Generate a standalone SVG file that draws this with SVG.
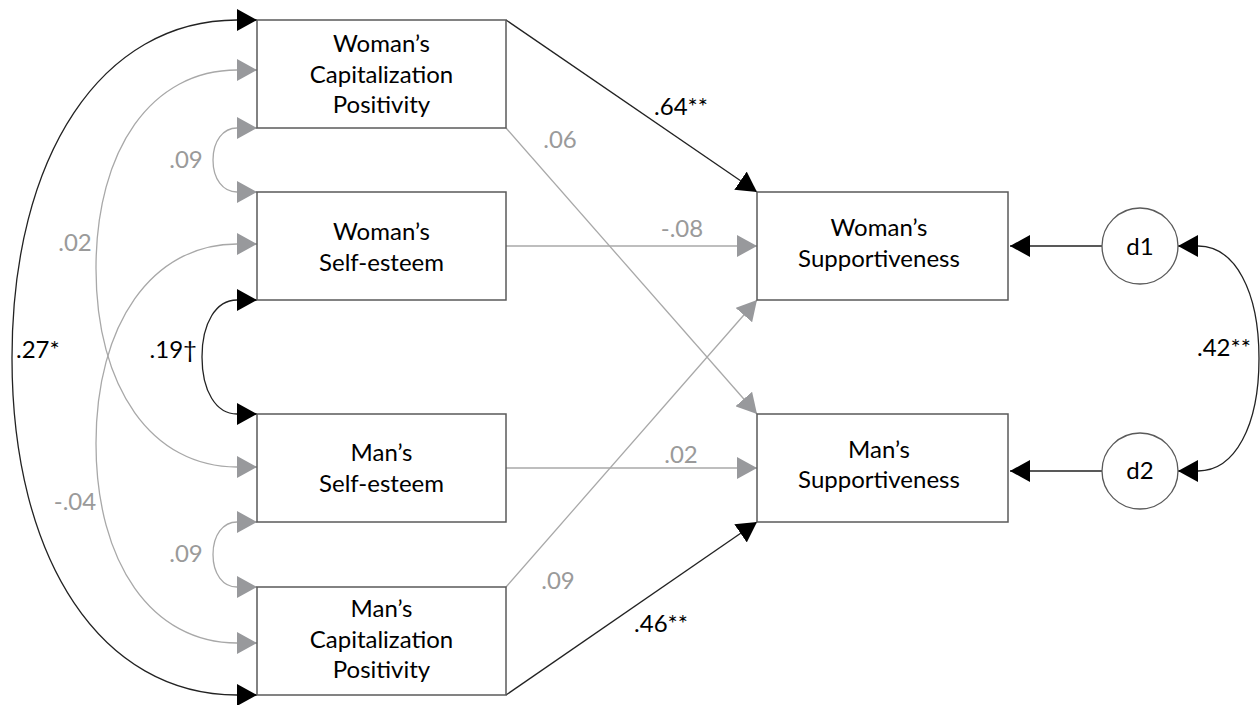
<svg xmlns="http://www.w3.org/2000/svg" width="1260" height="705" viewBox="0 0 1260 705">
<style>
.box{fill:#fff;stroke:#5a5a5a;stroke-width:1.5}
.circ{fill:#fff;stroke:#5a5a5a;stroke-width:1.3}
.t{font-family:Lato,"Liberation Sans",sans-serif;font-size:24px;fill:#000;text-anchor:middle}
.lb{font-family:Lato,"Liberation Sans",sans-serif;font-size:24px;fill:#000}
.lg{font-family:Lato,"Liberation Sans",sans-serif;font-size:24px;fill:#9a9a9a}
.k{fill:none;stroke:#222;stroke-width:1.3}
.g{fill:none;stroke:#a8a8a8;stroke-width:1.3}
</style>
<defs>
<marker id="ak" markerUnits="userSpaceOnUse" markerWidth="20" markerHeight="22" refX="20" refY="11" orient="auto-start-reverse" viewBox="0 0 20 22"><path d="M0,0 L20,11 L0,22 Z" fill="#000"/></marker>
<marker id="ag" markerUnits="userSpaceOnUse" markerWidth="20" markerHeight="22" refX="20" refY="11" orient="auto-start-reverse" viewBox="0 0 20 22"><path d="M0,0 L20,11 L0,22 Z" fill="#98999c"/></marker>
</defs>
<g id="connectors">
<path class="k" d="M257,20 L237,20 C102,20 12,155 12,358 C12,561 102,695 237,695 L257,695" marker-start="url(#ak)" marker-end="url(#ak)"/>
<path class="g" d="M257,70 L237,70 C152,70 96,149 96,268.5 C96,388 152,467 237,467 L257,467" marker-start="url(#ag)" marker-end="url(#ag)"/>
<path class="g" d="M257,244 L237,244 C152,244 96,324 96,443.5 C96,563 152,643 237,643 L257,643" marker-start="url(#ag)" marker-end="url(#ag)"/>
<path class="g" d="M257,128 L237,128 C223,128 213,141 213,160 C213,179 223,192 237,192 L257,192" marker-start="url(#ag)" marker-end="url(#ag)"/>
<path class="k" d="M257,300 L237,300 C216,300 202,323 202,357 C202,391 216,414 237,414 L257,414" marker-start="url(#ak)" marker-end="url(#ak)"/>
<path class="g" d="M257,522 L237,522 C223,522 213,535 213,554.5 C213,574 223,587 237,587 L257,587" marker-start="url(#ag)" marker-end="url(#ag)"/>
<path class="k" d="M506,20 L757,192" marker-end="url(#ak)"/>
<path class="g" d="M506,128 L757,414" marker-end="url(#ag)"/>
<path class="g" d="M506,246 L757,246" marker-end="url(#ag)"/>
<path class="g" d="M506,468 L757,468" marker-end="url(#ag)"/>
<path class="g" d="M506,587 L757,300" marker-end="url(#ag)"/>
<path class="k" d="M506,695 L757,522" marker-end="url(#ak)"/>
<path class="k" d="M1102,246 L1010,246" marker-end="url(#ak)"/>
<path class="k" d="M1102,471 L1010,471" marker-end="url(#ak)"/>
<path class="k" d="M1178,246 L1198,246 C1235,246 1259,291 1259,358.5 C1259,426 1235,471 1198,471 L1178,471" marker-start="url(#ak)" marker-end="url(#ak)"/>
</g>
<g id="labels">
<text class="lb" x="681" y="115" text-anchor="middle">.64**</text>
<text class="lg" x="560" y="148" text-anchor="middle">.06</text>
<text class="lg" x="682" y="237" text-anchor="middle">-.08</text>
<text class="lg" x="681" y="463" text-anchor="middle">.02</text>
<text class="lg" x="558" y="589" text-anchor="middle">.09</text>
<text class="lb" x="661" y="632" text-anchor="middle">.46**</text>
<text class="lb" x="1197" y="356">.42**</text>
<text class="lb" x="16" y="358">.27*</text>
<text class="lb" x="197" y="358" text-anchor="end">.19†</text>
<text class="lg" x="75" y="251" text-anchor="middle">.02</text>
<text class="lg" x="75" y="510" text-anchor="middle">-.04</text>
<text class="lg" x="186" y="168" text-anchor="middle">.09</text>
<text class="lg" x="186" y="562" text-anchor="middle">.09</text>
</g>
<g id="wcap"><rect class="box" x="257" y="20" width="249" height="108"/>
<text class="t" x="381.5" y="52">Woman’s</text><text class="t" x="381.5" y="83">Capitalization</text><text class="t" x="381.5" y="113">Positivity</text></g>
<g id="wse"><rect class="box" x="257" y="192" width="249" height="108"/>
<text class="t" x="381.5" y="240">Woman’s</text><text class="t" x="381.5" y="271">Self-esteem</text></g>
<g id="mse"><rect class="box" x="257" y="414" width="249" height="108"/>
<text class="t" x="381.5" y="461">Man’s</text><text class="t" x="381.5" y="492">Self-esteem</text></g>
<g id="mcap"><rect class="box" x="257" y="587" width="249" height="108"/>
<text class="t" x="381.5" y="617">Man’s</text><text class="t" x="381.5" y="648">Capitalization</text><text class="t" x="381.5" y="678">Positivity</text></g>
<g id="wsup"><rect class="box" x="757" y="192" width="251" height="108"/>
<text class="t" x="879" y="236">Woman’s</text><text class="t" x="879" y="267">Supportiveness</text></g>
<g id="msup"><rect class="box" x="757" y="414" width="251" height="108"/>
<text class="t" x="879" y="458">Man’s</text><text class="t" x="879" y="488">Supportiveness</text></g>
<g id="d1"><circle class="circ" cx="1140" cy="246" r="38"/><text class="t" x="1140" y="255">d1</text></g>
<g id="d2"><circle class="circ" cx="1140" cy="471" r="38"/><text class="t" x="1140" y="479">d2</text></g>
</svg>
